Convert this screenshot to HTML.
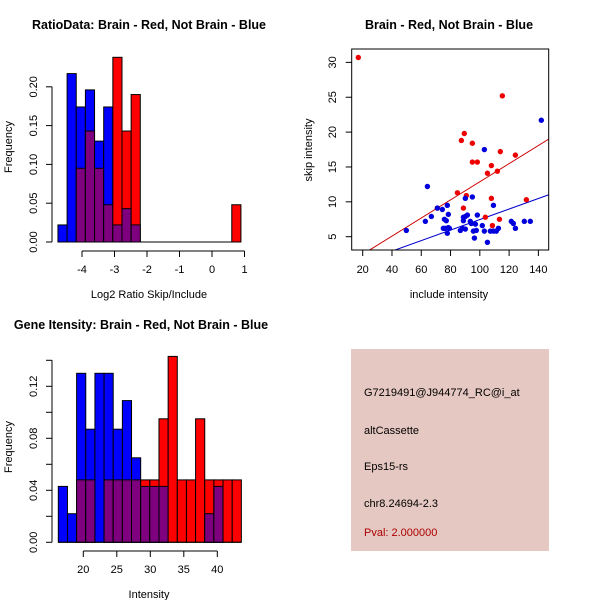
<!DOCTYPE html>
<html><head><meta charset="utf-8"><style>
body{margin:0;background:#fff}
svg{display:block}
text{font-family:"Liberation Sans",sans-serif;font-size:11px;fill:#000}
.t{font-weight:bold;font-size:12.5px}
</style></head><body>
<svg id="s" width="600" height="600" xmlns="http://www.w3.org/2000/svg"></svg>
<script>
// Panel 1: ratio histogram
const ratioStart=-4.74, ratioWidth=0.2815;
const ratioBlue=[0.022,0.217,0.174,0.196,0.13,0.174,0.022,0.043,0.022,0,0,0,0,0,0,0,0,0,0,0];
const ratioRed=[0,0,0.095,0.143,0.095,0.048,0.238,0.143,0.19,0,0,0,0,0,0,0,0,0,0,0.048];
const ratioXTicks=[-4,-3,-2,-1,0,1];
const ratioYTicks=[0,0.05,0.10,0.15,0.20];
// Panel 2: scatter
const redX=[17,115.4,89.4,87.4,94.9,114,124.3,94.9,98.3,107.9,105.2,112,84.7,90.8,107.9,131.8,88.8,103.8,113.4,108.6,71];
const redY=[30.7,25.2,19.8,18.8,18.4,17.2,16.7,15.7,15.7,15.2,14.1,14.4,11.3,10.9,10.5,10.3,9.1,7.8,7.5,6.6,9.1];
const blueX=[49.8,62.8,64.2,66.9,71,74.4,75.8,77.1,77.8,78.5,75.1,76.4,77.8,79.2,78.5,86.7,88.1,88.8,88.8,90.1,91.5,90.1,90.1,93.5,94.2,94.9,95.6,96.3,97,98.3,97.6,101.7,103.1,103.1,105.2,107.2,109.3,109.3,111.3,112.7,121.5,122.9,124.3,130.4,134.5,142];
const blueY=[5.9,7.2,12.2,7.9,9.1,8.9,7.5,7.3,9.5,8.2,6.2,6.2,5.5,6.2,6.3,5.9,6.2,7.3,7.8,7.9,8.1,10.5,6.1,7.2,6.9,10.7,5.8,4.8,6.8,8.1,5.9,6.6,17.5,5.8,4.2,5.8,9.5,5.8,5.8,6.2,7.2,6.9,6.2,7.2,7.2,21.7];
const redFit=[-0.12,0.13];
const blueFit=[-0.09,0.0755];
const scatXTicks=[20,40,60,80,100,120,140];
const scatYTicks=[5,10,15,20,25,30];
// Panel 3: intensity histogram
const intStart=16.27, intWidth=1.366;
const intBlue=[0.043,0.022,0.13,0.087,0.13,0.13,0.087,0.109,0.065,0.043,0.043,0.043,0,0,0,0,0.022,0.043,0,0];
const intRed=[0,0,0.048,0.048,0,0.048,0.048,0.048,0.048,0.048,0.048,0.095,0.143,0.048,0.048,0.095,0.048,0.048,0.048,0.048];
const intXTicks=[20,25,30,35,40];
const intYTicks=[0,0.02,0.04,0.06,0.08,0.10,0.12,0.14];
const infoLines=["G7219491@J944774_RC@i_at","altCassette","Eps15-rs","chr8.24694-2.3"];
const pval="Pval: 2.000000";

const S=document.getElementById('s');
const NS="http://www.w3.org/2000/svg";
function el(tag,attrs,parent){const e=document.createElementNS(NS,tag);for(const k in attrs)e.setAttribute(k,attrs[k]);(parent||S).appendChild(e);return e;}
function txt(x,y,s,rot,cls,anchor){const e=el('text',{x:x,y:y,'text-anchor':anchor||'middle'});if(rot)e.setAttribute('transform','rotate(-90 '+x+' '+y+')');if(cls)e.setAttribute('class',cls);e.textContent=s;return e;}

function hist(g,start,w,blue,red,sx,sy,y0){
  for(let i=0;i<blue.length;i++){
    const a=start+i*w,b=a+w,x1=sx(a),x2=sx(b);
    const bl=blue[i],rd=red[i];
    const draw=(v,c,nm)=>{const r=el('rect',{x:x1,y:sy(v),width:x2-x1,height:y0-sy(v),fill:c,stroke:'#000','stroke-width':1},g);
      
      };
    if(bl>=rd){ if(bl>0)draw(bl,'#0000ff','bar-blue-'+i); if(rd>0)draw(rd,'#7f007f','bar-overlap-'+i);}
    else { draw(rd,'#ff0000','bar-red-'+i); if(bl>0)draw(bl,'#7f007f','bar-overlap-'+i);}
  }
}
function yAxis(g,x,ticks,sy,fmt,labelEvery){
  el('line',{x1:x,x2:x,y1:sy(ticks[0]),y2:sy(ticks[ticks.length-1]),stroke:'#000'},g);
  ticks.forEach((t,i)=>{el('line',{x1:x-6,x2:x,y1:sy(t),y2:sy(t),stroke:'#000'},g);
    if(i%labelEvery===0){const e=txt(x-15,sy(t),fmt(t),true);}});
}
function xAxis(g,y,ticks,sx,fmt){
  el('line',{x1:sx(ticks[0]),x2:sx(ticks[ticks.length-1]),y1:y,y2:y,stroke:'#000'},g);
  ticks.forEach(t=>{el('line',{x1:sx(t),x2:sx(t),y1:y,y2:y+6,stroke:'#000'},g);
    const e=txt(sx(t),y+22,fmt(t));});
}

// Panel 1
{const g=el('g',{});
 const sx=v=>82+(v+4)*32.5, sy=v=>242-v/0.05*38.8;
 hist(g,ratioStart,ratioWidth,ratioBlue,ratioRed,sx,sy,242);
 el('line',{x1:sx(ratioStart),x2:sx(ratioStart+20*ratioWidth),y1:242,y2:242,stroke:'#000'},g);
 yAxis(g,52,ratioYTicks,sy,t=>t.toFixed(2),1);
 xAxis(g,251,ratioXTicks,sx,t=>String(t));
 txt(149,29,"RatioData: Brain - Red, Not Brain - Blue",false,'t');
 txt(149,298,"Log2 Ratio Skip/Include");
 txt(12,147,"Frequency",true);
}
// Panel 2
{const g=el('g',{});
 const sx=v=>362.7+(v-20)*1.464, sy=v=>236.7-(v-5)*6.973;
 el('clipPath',{id:'cp'},g);el('rect',{x:352,y:49,width:197,height:201},document.getElementById('cp'));
 const fit=(f,c,nm)=>{const xa=0,xb=160;const l=el('line',{x1:sx(xa),y1:sy(f[0]+f[1]*xa),x2:sx(xb),y2:sy(f[0]+f[1]*xb),stroke:c,'clip-path':'url(#cp)'},g);};
 fit(redFit,'#cc0000','red-fit-line');fit(blueFit,'#0000cc','blue-fit-line');
 redX.forEach((x,i)=>{const c=el('circle',{cx:sx(x),cy:sy(redY[i]),r:2.7,fill:'#ee0000'},g);});
 blueX.forEach((x,i)=>{const c=el('circle',{cx:sx(x),cy:sy(blueY[i]),r:2.7,fill:'#0000dd'},g);});
 el('rect',{x:351.7,y:49,width:197,height:201,fill:'none',stroke:'#000'},g);
 scatXTicks.forEach(t=>{el('line',{x1:sx(t),x2:sx(t),y1:250,y2:256,stroke:'#000'},g);txt(sx(t),273,String(t));});
 scatYTicks.forEach(t=>{el('line',{x1:345.7,x2:351.7,y1:sy(t),y2:sy(t),stroke:'#000'},g);txt(336,sy(t),String(t),true);});
 txt(449,29,"Brain - Red, Not Brain - Blue",false,'t');
 txt(449,298,"include intensity");
 txt(312,150,"skip intensity",true);
}
// Panel 3
{const g=el('g',{});
 const sx=v=>83.3+(v-20)*6.7, sy=v=>542.3-v/0.04*52;
 hist(g,intStart,intWidth,intBlue,intRed,sx,sy,542.3);
 el('line',{x1:sx(intStart),x2:sx(intStart+20*intWidth),y1:542.3,y2:542.3,stroke:'#000'},g);
 yAxis(g,52,intYTicks,sy,t=>t.toFixed(2),2);
 xAxis(g,551,intXTicks,sx,t=>String(t));
 txt(141,329,"Gene Itensity: Brain - Red, Not Brain - Blue",false,'t');
 txt(149,598,"Intensity");
 txt(12,447,"Frequency",true);
}
// Panel 4
{const g=el('g',{});
 el('rect',{x:351,y:349,width:198,height:202,fill:'#e6c8c2'},g);
 const ys=[396,434,470,507];
 infoLines.forEach((s,i)=>{const e=txt(364,ys[i],s,false,null,'start');});
 const p=txt(364,536,pval,false,null,'start');p.setAttribute('fill','#aa0000');p.style.fill='#aa0000';
 
}
</script>
</body></html>
